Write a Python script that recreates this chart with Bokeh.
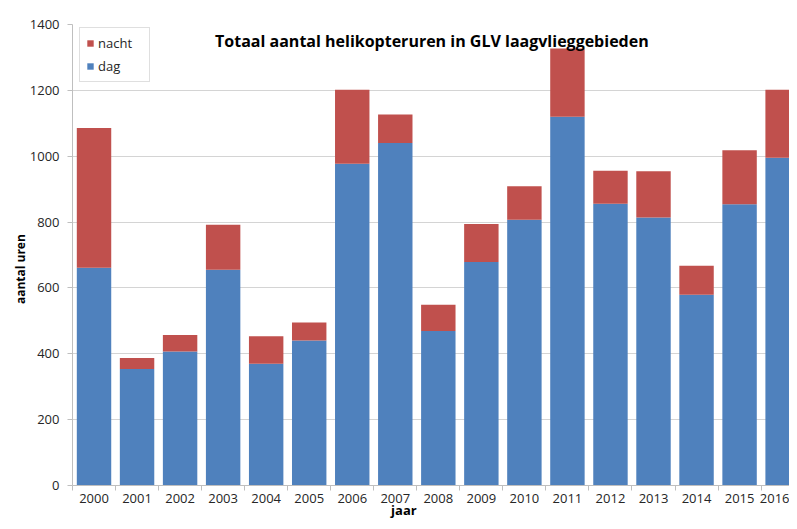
from bokeh.plotting import figure
from bokeh.models import ColumnDataSource, Range1d, FixedTicker, Legend, LegendItem, Label, LinearAxis
from bokeh.embed import file_html
from bokeh.resources import INLINE

# ---- data ----
years = list(range(2000, 2017))
dag = [661, 354, 407, 655, 370, 440, 977, 1040, 469, 679, 807, 1120, 856, 814, 579, 854, 995]
nacht = [425, 33, 50, 137, 83, 55, 225, 87, 80, 115, 102, 207, 100, 140, 88, 164, 207]
y_ticks = [0, 200, 400, 600, 800, 1000, 1200, 1400]
series_names = ["dag", "nacht"]
title_text = "Totaal aantal helikopteruren in GLV laagvlieggebieden"
x_title = "jaar"
y_title = "aantal uren"

BLUE = "#4F81BD"
RED = "#C0504D"
FONT = "Open Sans"
TXT = "#262626"
AXC = "#bfbfbf"

src = ColumnDataSource(dict(year=years, dag=dag, nacht=nacht))

p = figure(width=789, height=521, output_backend="svg", toolbar_location=None,
           x_range=Range1d(years[0] - 0.5, years[0] - 0.5 + 16.66),
           y_range=Range1d(y_ticks[0], y_ticks[-1]),
           min_border_left=72, min_border_top=24, min_border_bottom=35, min_border_right=0)
p.outline_line_color = None
p.background_fill_color = "white"
p.border_fill_color = "white"

rs = p.vbar_stack(series_names, x="year", width=0.8, source=src,
                  color=[BLUE, RED], line_color=None)

# x axis
p.xaxis.ticker = FixedTicker(ticks=years, minor_ticks=[y - 0.5 for y in years] + [years[-1] + 0.5])
p.xaxis.major_tick_out = 0
p.xaxis.major_tick_in = 0
p.xaxis.minor_tick_out = 5
p.xaxis.minor_tick_in = 0
p.xaxis.minor_tick_line_color = AXC
p.xaxis.axis_line_color = AXC
p.xaxis.major_label_standoff = 3
p.xaxis.major_label_text_font = FONT
p.xaxis.major_label_text_font_size = "13px"
p.xaxis.major_label_text_color = TXT

# y axis
p.yaxis.ticker = FixedTicker(ticks=y_ticks)
p.yaxis.major_tick_out = 5
p.yaxis.major_tick_in = 0
p.yaxis.minor_tick_line_color = None
p.yaxis.major_tick_line_color = AXC
p.yaxis.axis_line_color = AXC
p.yaxis.major_label_standoff = 8
p.yaxis.major_label_text_font = FONT
p.yaxis.major_label_text_font_size = "13px"
p.yaxis.major_label_text_color = TXT

p.xgrid.visible = False
p.ygrid.grid_line_color = "#d4d4d4"
p.ygrid.ticker = FixedTicker(ticks=y_ticks)

# axis titles (placed as tick labels of extra axes to position them like the reference)
jaar_pos = 2007.2
jaar_axis = LinearAxis(ticker=FixedTicker(ticks=[jaar_pos]), major_label_overrides={jaar_pos: x_title},
                       axis_line_color=None, major_tick_line_color=None, minor_tick_line_color=None,
                       major_tick_out=0, major_tick_in=0,
                       major_label_standoff=-5, major_label_text_font=FONT,
                       major_label_text_font_style="bold", major_label_text_font_size="13px",
                       major_label_text_color="black")
p.add_layout(jaar_axis, "below")

uren_pos = 657
uren_axis = LinearAxis(ticker=FixedTicker(ticks=[uren_pos]), major_label_overrides={uren_pos: y_title},
                       major_label_orientation="vertical",
                       axis_line_color=None, major_tick_line_color=None, minor_tick_line_color=None,
                       major_tick_out=0, major_tick_in=0,
                       major_label_standoff=-3, major_label_text_font=FONT,
                       major_label_text_font_style="bold", major_label_text_font_size="12px",
                       major_label_text_color="black")
p.add_layout(uren_axis, "left")

legend = Legend(items=[LegendItem(label="nacht", renderers=[rs[1]]),
                       LegendItem(label="dag", renderers=[rs[0]])],
                location=(7, 403), padding=6, spacing=5, label_height=17,
                glyph_height=8, glyph_width=8, label_standoff=4, label_width=45,
                label_text_font=FONT, label_text_font_size="13px", label_text_color=TXT,
                border_line_color=AXC, background_fill_color="white",
                background_fill_alpha=1.0, margin=0)
p.add_layout(legend)

p.add_layout(Label(x=2007.85, y=1350, text=title_text,
                   text_align="center", text_baseline="middle", text_font=FONT,
                   text_font_style="bold", text_font_size="16px", text_color="black"))

open("out.html", "w").write(file_html(p, INLINE))
